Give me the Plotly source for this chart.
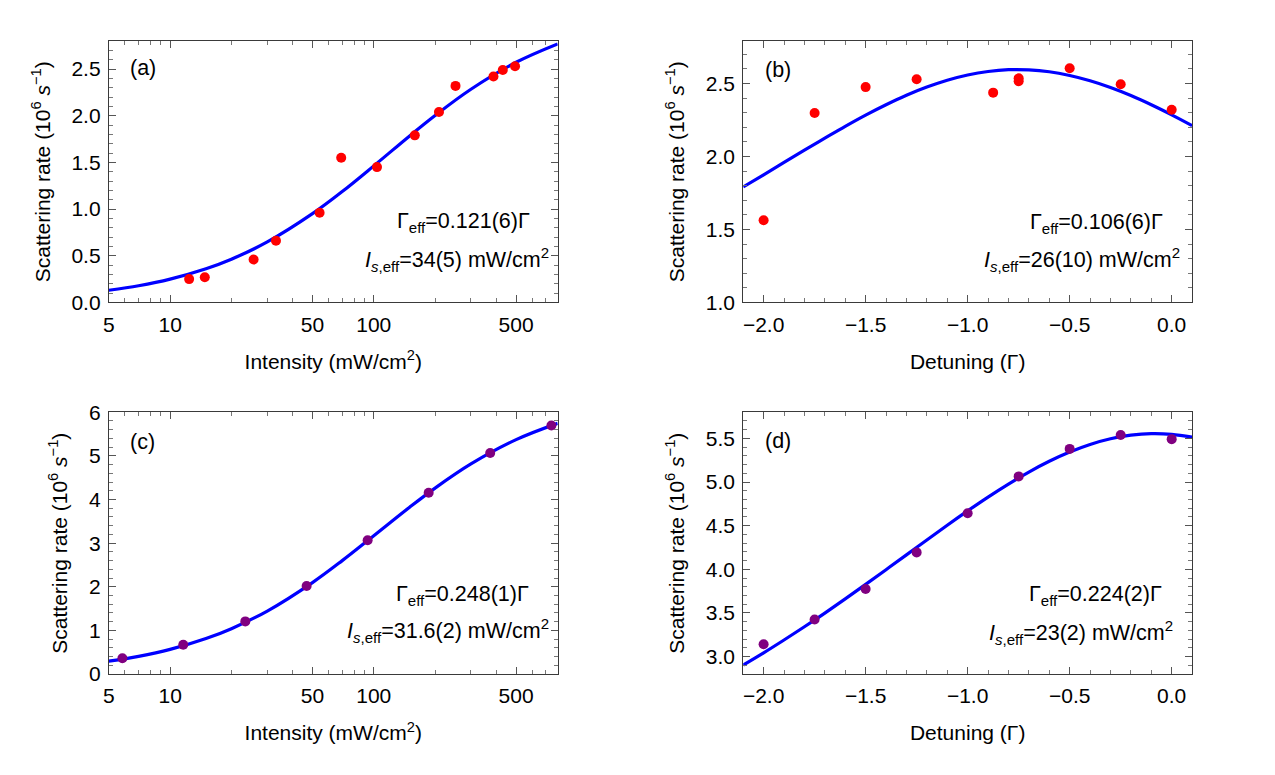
import plotly.graph_objects as go

# ---------------- data ----------------
# (a) intensity scan, red points
int_a = [12.4, 14.8, 25.7, 33.1, 54.2, 69.2, 103.7, 159, 209, 252, 387, 430, 494]
rate_a = [0.25, 0.27, 0.46, 0.66, 0.96, 1.55, 1.45, 1.79, 2.04, 2.32, 2.42, 2.49, 2.53]
fit_int_a = [5, 7, 10, 15, 20, 30, 50, 70, 100, 150, 200, 300, 500, 800]
fit_rate_a = [0.130, 0.179, 0.250, 0.361, 0.463, 0.648, 0.951, 1.188, 1.463, 1.784, 2.003, 2.284, 2.573, 2.770]

# (b) detuning scan, red points
det_b = [-2.0, -1.75, -1.5, -1.25, -0.875, -0.75, -0.75, -0.5, -0.25, 0.0]
rate_b = [1.563, 2.297, 2.475, 2.529, 2.437, 2.515, 2.535, 2.604, 2.495, 2.32]
fit_det_b = [-2.1, -2.0, -1.9, -1.8, -1.7, -1.6, -1.5, -1.4, -1.3, -1.2, -1.1, -1.0,
             -0.9, -0.8, -0.7, -0.6, -0.5, -0.4, -0.3, -0.2, -0.1, 0.0, 0.1]
fit_rate_b = [1.791, 1.874, 1.959, 2.043, 2.125, 2.206, 2.283, 2.354, 2.419, 2.475, 2.522, 2.558,
              2.582, 2.594, 2.593, 2.580, 2.554, 2.518, 2.472, 2.417, 2.354, 2.285, 2.211]

# (c) intensity scan, purple points
int_c = [5.83, 11.6, 23.4, 46.8, 93.3, 186, 373, 745]
rate_c = [0.362, 0.673, 1.207, 2.02, 3.067, 4.155, 5.067, 5.696]
fit_int_c = [5, 7, 10, 15, 20, 30, 50, 70, 100, 150, 200, 300, 500, 800]
fit_rate_c = [0.295, 0.406, 0.565, 0.8125, 1.04, 1.444, 2.097, 2.6, 3.171, 3.824, 4.262, 4.815, 5.372, 5.746]

# (d) detuning scan, purple points
det_d = [-2.0, -1.75, -1.5, -1.25, -1.0, -0.75, -0.5, -0.25, 0.0]
rate_d = [3.141, 3.426, 3.775, 4.194, 4.643, 5.065, 5.380, 5.540, 5.492]
fit_det_d = [-2.1, -2.0, -1.9, -1.8, -1.7, -1.6, -1.5, -1.4, -1.3, -1.2, -1.1, -1.0,
             -0.9, -0.8, -0.7, -0.6, -0.5, -0.4, -0.3, -0.2, -0.1, 0.0, 0.1]
fit_rate_d = [2.903, 3.043, 3.190, 3.342, 3.499, 3.661, 3.827, 3.996, 4.166, 4.337, 4.506, 4.67,
              4.828, 4.977, 5.115, 5.238, 5.344, 5.431, 5.496, 5.537, 5.555, 5.547, 5.515]

# tick labels
int_tickvals = [5, 10, 50, 100, 500]
int_ticktext = ["5", "10", "50", "100", "500"]
int_minor = [6, 7, 8, 9, 20, 30, 40, 60, 70, 80, 90, 200, 300, 400, 600, 700, 800]

labels = ["(a)", "(b)", "(c)", "(d)"]
gamma_txt = ["0.121(6)", "0.106(6)", "0.248(1)", "0.224(2)"]
isat_txt = ["34(5)", "26(10)", "31.6(2)", "23(2)"]

# ---------------- figure ----------------
W, H = 1275, 775
FONT = "Liberation Sans, Arial, Helvetica, sans-serif"
RED = "#FF0000"
PURPLE = "#800080"
BLUE = "#0000FF"

fig = go.Figure()

panels = [
    dict(xa="x", ya="y", fx=fit_int_a, fy=fit_rate_a, px=int_a, py=rate_a, col=RED),
    dict(xa="x2", ya="y2", fx=fit_det_b, fy=fit_rate_b, px=det_b, py=rate_b, col=RED),
    dict(xa="x3", ya="y3", fx=fit_int_c, fy=fit_rate_c, px=int_c, py=rate_c, col=PURPLE),
    dict(xa="x4", ya="y4", fx=fit_det_d, fy=fit_rate_d, px=det_d, py=rate_d, col=PURPLE),
]
for p in panels:
    fig.add_trace(go.Scatter(x=p["fx"], y=p["fy"], xaxis=p["xa"], yaxis=p["ya"], mode="lines",
                             line=dict(color=BLUE, width=3.2, shape="spline", smoothing=1.0),
                             showlegend=False, hoverinfo="skip"))
    fig.add_trace(go.Scatter(x=p["px"], y=p["py"], xaxis=p["xa"], yaxis=p["ya"], mode="markers",
                             marker=dict(color=p["col"], size=10, line=dict(width=0)),
                             showlegend=False))

# panel pixel boxes (left, right, top, bottom)
boxes = [(103.3, 554.3, 30.0, 299.3), (740.7, 1191.7, 30.0, 299.3),
         (103.3, 554.3, 412.5, 682.3), (740.7, 1191.7, 412.5, 682.3)]

def xd(b):
    return [b[0] / W, b[1] / W]

def yd(b):
    return [1 - b[3] / H, 1 - b[2] / H]

common = dict(showline=True, linecolor="#3a3a3a", linewidth=1, mirror="allticks",
              ticks="inside", ticklen=7, tickwidth=1, tickcolor="#555555",
              showgrid=False, zeroline=False,
              tickfont=dict(family=FONT, size=21, color="black"))
minor_common = dict(ticks="inside", ticklen=4, tickwidth=1, tickcolor="#777777", showgrid=False)

TFONT = dict(family=FONT, size=21, color="black")
ytitle = dict(text="Scattering rate (10<sup>6</sup> <i>s</i><sup>\u22121</sup>)", font=TFONT, standoff=15)
xtitle_int = dict(text="Intensity (mW/cm<sup>2</sup>)", font=TFONT, standoff=19)
xtitle_det = dict(text="Detuning (\u0393)", font=TFONT, standoff=19)

lay = {}
for i, b in enumerate(boxes):
    sfx = "" if i == 0 else str(i + 1)
    yname = "y" + sfx
    xname = "x" + sfx
    if i in (0, 2):
        xa = dict(common, type="log", domain=xd(b), anchor=yname,
                  range=[0.69897, 2.90309], tickvals=int_tickvals, ticktext=int_ticktext,
                  minor=dict(minor_common, tickvals=int_minor), title=xtitle_int,
                  ticklabelstandoff=3)
    else:
        xa = dict(common, domain=xd(b), anchor=yname, range=[-2.1, 0.1],
                  tick0=0, dtick=0.5, tickformat=".1f",
                  minor=dict(minor_common, dtick=0.1, tick0=0), title=xtitle_det,
                  ticklabelstandoff=3)
    if i == 0:
        ya = dict(common, range=[0, 2.8], tick0=0, dtick=0.5, tickformat=".1f",
                  minor=dict(minor_common, dtick=0.1, tick0=0))
    elif i == 1:
        ya = dict(common, range=[1.0, 2.79], tick0=0, dtick=0.5, tickformat=".1f",
                  minor=dict(minor_common, dtick=0.1, tick0=0))
    elif i == 2:
        ya = dict(common, range=[0, 6], tick0=0, dtick=1, tickformat="d",
                  minor=dict(minor_common, dtick=0.2, tick0=0))
    else:
        ya = dict(common, range=[2.8, 5.8], tick0=0, dtick=0.5, tickformat=".1f",
                  minor=dict(minor_common, dtick=0.1, tick0=0))
    ya.update(domain=yd(b), anchor=xname, title=ytitle, ticklabelstandoff=3)
    lay["xaxis" + sfx] = xa
    lay["yaxis" + sfx] = ya

fig.update_layout(**lay)

# annotations
ann = []
AFONT = dict(family=FONT, size=21.5, color="black")
label_pos = [(123, 58), (761, 60), (123, 443), (761, 442.5)]
gamma_pos = [(528, 217), (1164, 218), (527, 601), (1163.5, 601.5)]
isat_pos = [(548, 255.5), (1182, 255.5), (548, 637.5), (1175, 639)]
for i in range(4):
    lx, ly = label_pos[i]
    ann.append(dict(x=lx / W, y=1 - ly / H, xref="paper", yref="paper", text=labels[i],
                    showarrow=False, xanchor="left", yanchor="middle",
                    font=dict(family=FONT, size=21.5, color="black")))
    gx, gy = gamma_pos[i]
    ann.append(dict(x=gx / W, y=1 - gy / H, xref="paper", yref="paper",
                    text="\u0393<sub>eff</sub>=" + gamma_txt[i] + "\u0393",
                    showarrow=False, xanchor="right", yanchor="middle", font=AFONT))
    sx, sy = isat_pos[i]
    ann.append(dict(x=sx / W, y=1 - sy / H, xref="paper", yref="paper",
                    text="<i>I</i><sub><i>s</i>,eff</sub>=" + isat_txt[i] + " mW/cm<sup>2</sup>",
                    showarrow=False, xanchor="right", yanchor="middle", font=AFONT))

fig.update_layout(annotations=ann, width=W, height=H,
                  margin=dict(l=0, r=0, t=0, b=0),
                  paper_bgcolor="white", plot_bgcolor="white",
                  font=dict(family=FONT, color="black"))

fig.write_html("out.html")
